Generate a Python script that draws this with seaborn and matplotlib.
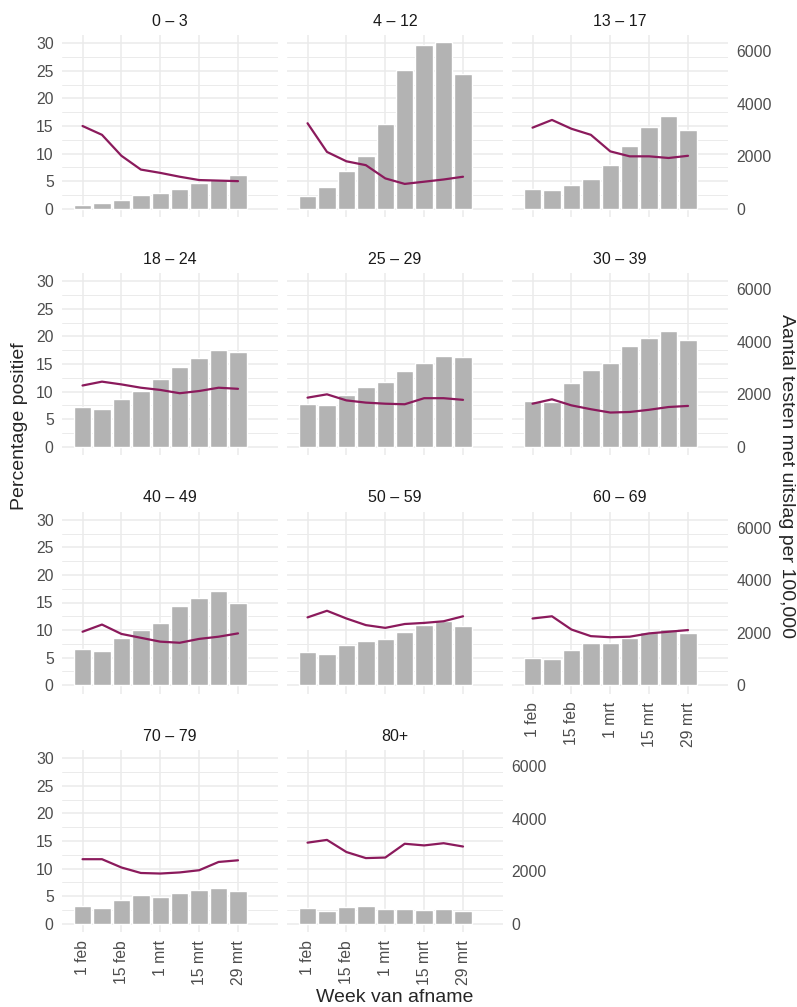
import numpy as np
import pandas as pd
import matplotlib
matplotlib.use('Agg')
import matplotlib.pyplot as plt
import seaborn as sns

# weeks (days after 1 feb)
week_days = [0, 7, 14, 21, 28, 35, 42, 49, 56]
tick_days = [0, 14, 28, 42, 56]
tick_labels = ['1 feb', '15 feb', '1 mrt', '15 mrt', '29 mrt']

age_groups = ['0 – 3', '4 – 12', '13 – 17', '18 – 24', '25 – 29', '30 – 39',
              '40 – 49', '50 – 59', '60 – 69', '70 – 79', '80+']

# tests with result per 100,000 (bars, right axis)
tests_per_100k = [
    [137, 201, 315, 517, 581, 745, 972, 1113, 1291],
    [500, 820, 1430, 2000, 3240, 5290, 6220, 6340, 5140],
    [760, 710, 900, 1150, 1680, 2400, 3100, 3540, 3010],
    [1510, 1430, 1810, 2120, 2580, 3050, 3360, 3680, 3590],
    [1640, 1580, 1970, 2290, 2480, 2900, 3170, 3440, 3400],
    [1740, 1700, 2420, 2940, 3170, 3820, 4140, 4390, 4050],
    [1370, 1300, 1810, 2120, 2370, 3020, 3340, 3570, 3150],
    [1280, 1200, 1550, 1680, 1760, 2040, 2290, 2440, 2250],
    [1050, 1010, 1360, 1620, 1620, 1800, 2030, 2130, 1970],
    [680, 590, 890, 1090, 1030, 1170, 1290, 1350, 1240],
    [610, 470, 630, 670, 560, 560, 530, 550, 490],
]

# percentage positive (line, left axis)
pct_positive = [
    [15.0, 13.4, 9.6, 7.1, 6.5, 5.8, 5.2, 5.1, 5.0],
    [15.5, 10.3, 8.6, 7.9, 5.5, 4.5, 4.9, 5.3, 5.8],
    [14.7, 16.1, 14.5, 13.4, 10.4, 9.5, 9.5, 9.2, 9.6],
    [11.1, 11.8, 11.3, 10.7, 10.3, 9.7, 10.1, 10.7, 10.5],
    [8.9, 9.5, 8.4, 8.0, 7.8, 7.7, 8.8, 8.8, 8.5],
    [7.8, 8.6, 7.5, 6.8, 6.2, 6.3, 6.7, 7.2, 7.4],
    [9.7, 11.0, 9.3, 8.6, 7.9, 7.7, 8.4, 8.8, 9.4],
    [12.3, 13.5, 12.1, 10.9, 10.4, 11.1, 11.3, 11.6, 12.5],
    [12.1, 12.5, 10.1, 8.9, 8.7, 8.8, 9.4, 9.7, 10.0],
    [11.7, 11.7, 10.2, 9.2, 9.1, 9.3, 9.7, 11.2, 11.5],
    [14.7, 15.2, 13.0, 11.9, 12.0, 14.5, 14.2, 14.6, 14.0],
]

SCALE = 210  # tests per 100,000 per percentage point (secondary axis)

sns.set_theme(style='white')
plt.rcParams['font.family'] = ['Liberation Sans', 'DejaVu Sans']

W, H = 797, 1007
fig = plt.figure(figsize=(W / 100, H / 100), dpi=100)

col_left = [62, 287, 512]
row_top = [35, 273, 511.5, 750]
pw, ph = 216, 182
grid_col = '#ebebeb'
tick_col = '#4d4d4d'

for i, age in enumerate(age_groups):
    r, c = divmod(i, 3)
    ax = fig.add_axes([col_left[c] / W, 1 - (row_top[r] + ph) / H, pw / W, ph / H])
    df = pd.DataFrame({'day': week_days, 'tests': tests_per_100k[i], 'pct': pct_positive[i]})
    df['tests_scaled'] = df['tests'] / SCALE

    sns.barplot(data=df, x='day', y='tests_scaled', native_scale=True, width=0.9,
                color='#b3b3b3', saturation=1, ax=ax, zorder=2)
    sns.lineplot(data=df, x='day', y='pct', color='#8b1a5c', lw=1.6, ax=ax, zorder=3)

    ax.set_xlim(-7.4, 70.4)
    ax.set_ylim(-1.5, 31.5)
    ax.set_xticks(tick_days)
    ax.set_xticklabels(tick_labels, rotation=90)
    ax.set_yticks(range(0, 31, 5))
    ax.set_yticks(np.arange(2.5, 30, 5), minor=True)
    ax.grid(which='major', color=grid_col, lw=1.1)
    ax.grid(which='minor', axis='y', color=grid_col, lw=0.7)
    ax.set_axisbelow(True)
    for s in ax.spines.values():
        s.set_visible(False)
    ax.tick_params(which='both', length=0, labelsize=11.3, colors=tick_col, pad=6)
    ax.set_xlabel('')
    ax.set_ylabel('')
    if c != 0:
        ax.tick_params(labelleft=False)
    if i not in (8, 9, 10):
        ax.tick_params(labelbottom=False)
    ax.set_title(age, fontsize=11.5, color='#1a1a1a', pad=6.5)

    if c == 2 or i == 10:
        sec = ax.secondary_yaxis('right', functions=(lambda p: p * SCALE, lambda t: t / SCALE))
        sec.set_yticks([0, 2000, 4000, 6000])
        sec.tick_params(length=0, labelsize=11.3, colors=tick_col, pad=6)
        for s in sec.spines.values():
            s.set_visible(False)

fig.text(20 / W, 1 - 426 / H, 'Percentage positief', rotation=90, ha='center', va='center', fontsize=14)
fig.text(787 / W, 1 - 476 / H, 'Aantal testen met uitslag per 100,000', rotation=-90,
         ha='center', va='center', fontsize=14)
fig.text(395 / W, 1 - 998 / H, 'Week van afname', ha='center', va='center', fontsize=14)

fig.savefig('out.png', dpi=100, facecolor='white')
